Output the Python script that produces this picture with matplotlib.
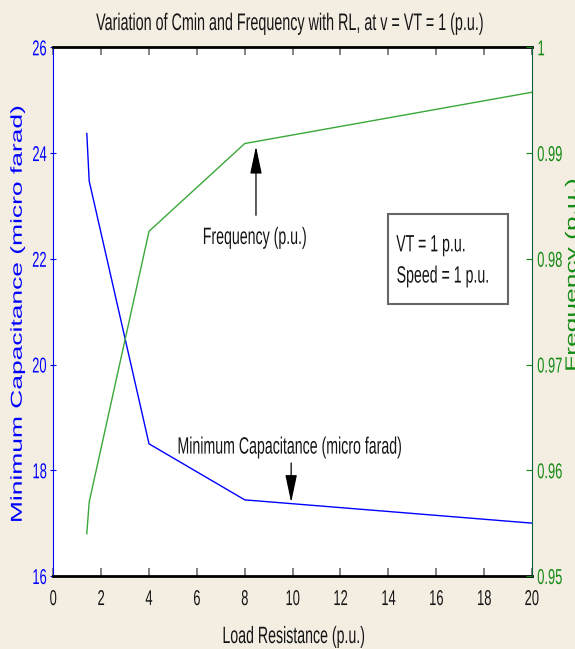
import matplotlib
matplotlib.use('Agg')
import matplotlib.pyplot as plt
from matplotlib.patches import Rectangle
from matplotlib.patheffects import AbstractPathEffect
from matplotlib.transforms import Affine2D

# values
load_res = [1.4, 1.5, 4, 8, 20]
cmin = [24.37, 23.47, 18.5, 17.44, 17.0]
freq = [0.9540, 0.9570, 0.9826, 0.9909, 0.99575]

x_ticks = [0, 2, 4, 6, 8, 10, 12, 14, 16, 18, 20]
c_ticks = [16, 18, 20, 22, 24, 26]
f_ticks = [0.95, 0.96, 0.97, 0.98, 0.99, 1]
f_labels = ['0.95', '0.96', '0.97', '0.98', '0.99', '1']

plt.rcParams['font.family'] = ['Liberation Sans', 'DejaVu Sans']


class Squeeze(AbstractPathEffect):
    # the reference picture is squashed sideways, so squash the text the same way
    def __init__(self, sx=0.6, where='center'):
        super().__init__()
        self.sx = sx
        self.where = where

    def draw_path(self, renderer, gc, tpath, affine, rgbFace=None):
        ext = tpath.transformed(affine).get_extents()
        if self.where == 'left':
            x0 = ext.x0
        elif self.where == 'right':
            x0 = ext.x1
        else:
            x0 = 0.5 * (ext.x0 + ext.x1)
        sq = Affine2D().translate(-x0, 0).scale(self.sx, 1).translate(x0, 0)
        renderer.draw_path(gc, tpath, affine + sq, rgbFace)


def sq(where='center', sx=0.6):
    return [Squeeze(sx, where)]


blue = '#0000ff'
green = '#138a13'
line_green = '#3aa83a'
ink = '#151515'

fig = plt.figure(figsize=(5.75, 6.49), dpi=100, facecolor='#f4ede2')
ax = fig.add_axes([0.0927, 0.1125, 0.8323, 0.8146])
ax.set_facecolor('white')

ax.plot(load_res, cmin, color=blue, lw=1.0)
ax.set_xlim(0, 20)
ax.set_ylim(16, 26)
ax.set_xticks(x_ticks)
ax.set_yticks(c_ticks)
ax.tick_params(axis='x', direction='in', length=6, width=1.3, color='#777777',
               labelsize=15.5, labelcolor=ink, top=True, pad=9.4)
ax.tick_params(axis='y', direction='inout', length=5, color=blue,
               labelsize=15.5, labelcolor=blue, pad=2)
ax.spines['left'].set_color(blue)
ax.spines['bottom'].set_linewidth(2)
ax.spines['top'].set_linewidth(2)
ax.spines['right'].set_visible(False)

ax2 = ax.twinx()
ax2.plot(load_res, freq, color=line_green, lw=1.0)
ax2.set_ylim(0.95, 1.0)
ax2.set_yticks(f_ticks)
ax2.set_yticklabels(f_labels)
ax2.tick_params(axis='y', direction='in', length=4, color=green,
                labelsize=15.5, labelcolor=green, pad=3.6)
ax2.spines['right'].set_color('#06643a')
ax2.spines['left'].set_visible(False)
ax2.spines['top'].set_visible(False)
ax2.spines['bottom'].set_visible(False)

for lab in ax.get_xticklabels():
    lab.set_path_effects(sq('center'))
for lab in ax.get_yticklabels():
    lab.set_path_effects(sq('right'))
for lab in ax2.get_yticklabels():
    lab.set_path_effects(sq('left'))

fig.text(0.504, 0.9538, 'Variation of Cmin and Frequency with RL, at v = VT = 1 (p.u.)',
         ha='center', va='baseline', fontsize=17.2, color=ink,
         path_effects=sq('center'))
fig.text(0.511, 0.0092, 'Load Resistance (p.u.)', ha='center', va='baseline',
         fontsize=17, color=ink, path_effects=sq('center'))

fig.text(0.0304, 0.194, 'Minimum Capacitance (micro farad)', rotation=90,
         rotation_mode='anchor', ha='left', va='center', fontsize=19,
         color=blue, path_effects=sq('center'))
fig.text(0.9826, 0.427, 'Frequency (p.u.)', rotation=90,
         rotation_mode='anchor', ha='left', va='top', fontsize=19,
         color=green, path_effects=sq('left'))

arrow = dict(arrowstyle='-|>,head_length=1.7,head_width=0.36', color='black',
             lw=0.9, mutation_scale=10)
ax.annotate('', xy=(8.47, 24.18), xytext=(8.47, 22.77), arrowprops=arrow)
ax.text(8.42, 22.28, 'Frequency (p.u.)', ha='center', va='baseline',
        fontsize=17, color=ink, path_effects=sq('center'))
ax.annotate('', xy=(9.94, 17.34), xytext=(9.94, 18.19), arrowprops=arrow)
ax.text(9.9, 18.315, 'Minimum Capacitance (micro farad)', ha='center',
        va='baseline', fontsize=17, color=ink, path_effects=sq('center'))

ax.add_patch(Rectangle((13.99, 21.15), 5.01, 1.69, fc='white', ec='#666666',
                       lw=1.5, zorder=3))
ax.text(14.33, 22.14, 'VT = 1 p.u.', ha='left', va='baseline',
        fontsize=17, color=ink, zorder=4, path_effects=sq('left'))
ax.text(14.33, 21.55, 'Speed = 1 p.u.', ha='left', va='baseline',
        fontsize=17, color=ink, zorder=4, path_effects=sq('left'))

fig.savefig('out.png', dpi=100, facecolor=fig.get_facecolor())
